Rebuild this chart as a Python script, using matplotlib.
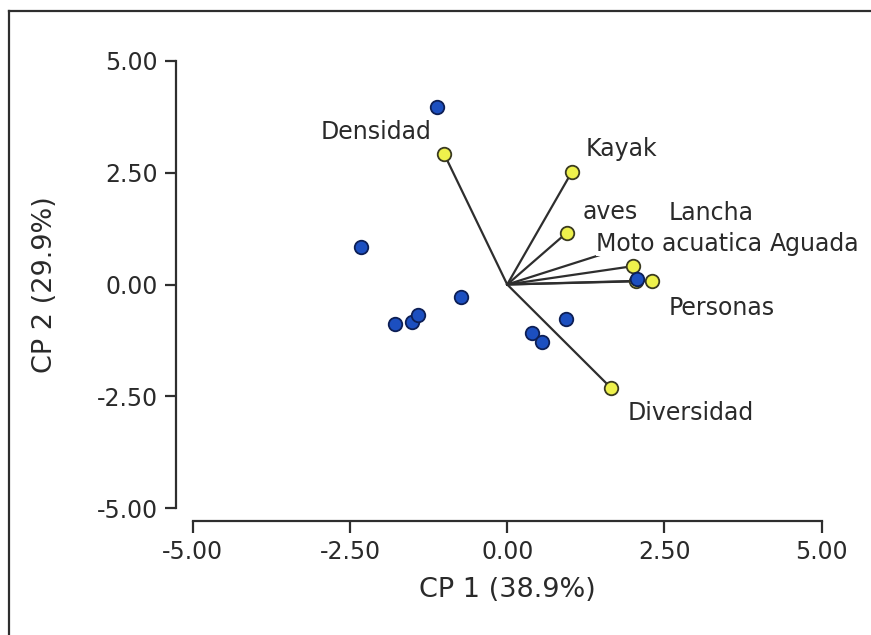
import matplotlib

matplotlib.use("Agg")
import matplotlib.pyplot as plt
from matplotlib.lines import Line2D

# Principal component scores for the sites (CP 1, CP 2)
site_cp1 = [-1.12, -2.32, -0.74, -1.79, -1.52, -1.42, 0.39, 0.56, 0.93, 2.06]
site_cp2 = [3.97, 0.83, -0.28, -0.89, -0.84, -0.69, -1.08, -1.29, -0.77, 0.13]

# Variable loadings drawn as vectors from the origin
variables = ["Densidad", "Kayak", "aves", "Lancha", "Moto acuatica",
             "Aguada", "Personas", "Diversidad"]
var_cp1 = [-1.00, 1.03, 0.95, 2.00, 1.90, 2.05, 2.30, 1.65]
var_cp2 = [2.91, 2.52, 1.16, 0.41, 0.85, 0.08, 0.08, -2.31]

ticks = [-5.0, -2.5, 0.0, 2.5, 5.0]

# where each variable name is written (left edge / centre of the text)
label_xy = {
    "Densidad": (-2.09, 3.41, "center"),
    "Kayak": (1.24, 3.03, "left"),
    "aves": (1.20, 1.63, "left"),
    "Lancha": (2.57, 1.60, "left"),
    "Moto acuatica": (1.41, 0.91, "left"),
    "Aguada": (4.17, 0.91, "left"),
    "Personas": (2.57, -0.52, "left"),
    "Diversidad": (1.92, -2.88, "left"),
}

TEXT = "#2a2a2a"
LINE = "#2e2e2e"
BLUE = "#1c4fc0"
YELLOW = "#eef14c"

fig = plt.figure(figsize=(8.71, 6.35), dpi=100)
W, H = 871, 635
ax = fig.add_axes([192.7 / W, 1 - 508.3 / H, 629 / W, 447.6 / H])

ax.set_xlim(-5, 5)
ax.set_ylim(-5, 5)
ax.set_xticks(ticks)
ax.set_yticks(ticks)
ax.set_xticklabels([f"{t:.2f}" for t in ticks])
ax.set_yticklabels([f"{t:.2f}" for t in ticks])

for side in ("top", "right"):
    ax.spines[side].set_visible(False)
ax.spines["left"].set_position(("outward", 12))
ax.spines["bottom"].set_position(("outward", 9))
for side in ("left", "bottom"):
    ax.spines[side].set_linewidth(1.6)
    ax.spines[side].set_color(LINE)

ax.tick_params(axis="y", direction="out", length=8, width=1.6, pad=5,
               labelsize=17, colors=LINE, labelcolor=TEXT)
ax.tick_params(axis="x", direction="out", length=8.5, width=1.6, pad=5,
               labelsize=17, colors=LINE, labelcolor=TEXT)

ax.set_xlabel("CP 1 (38.9%)", fontsize=19.5, color=TEXT, va="center")
ax.set_ylabel("CP 2 (29.9%)", fontsize=19.5, color=TEXT, va="center")
ax.xaxis.set_label_coords(0.5, -0.183)
ax.yaxis.set_label_coords(-0.235, 0.5)

# loading vectors
for x, y in zip(var_cp1, var_cp2):
    ax.plot([0, x], [0, y], color=LINE, lw=1.6, zorder=2, clip_on=False)
ax.scatter(var_cp1, var_cp2, s=95, color=YELLOW, edgecolor="#3a3a20",
           linewidth=1.3, zorder=3, clip_on=False)

# site scores
ax.scatter(site_cp1, site_cp2, s=95, color=BLUE, edgecolor="#0d1f55",
           linewidth=1.3, zorder=4, clip_on=False)

for name in variables:
    lx, ly, ha = label_xy[name]
    ax.text(lx, ly, name, fontsize=17, color=TEXT, ha=ha, va="center",
            zorder=5, bbox=dict(boxstyle="square,pad=0", fc="white", ec="none"))

# page frame lines
fig.add_artist(Line2D([9 / W, 9 / W], [0, 1 - 11 / H], color=LINE, lw=1.6))
fig.add_artist(Line2D([9 / W, 1], [1 - 11 / H, 1 - 11 / H], color=LINE, lw=1.6))

fig.savefig("out.png", dpi=100)
